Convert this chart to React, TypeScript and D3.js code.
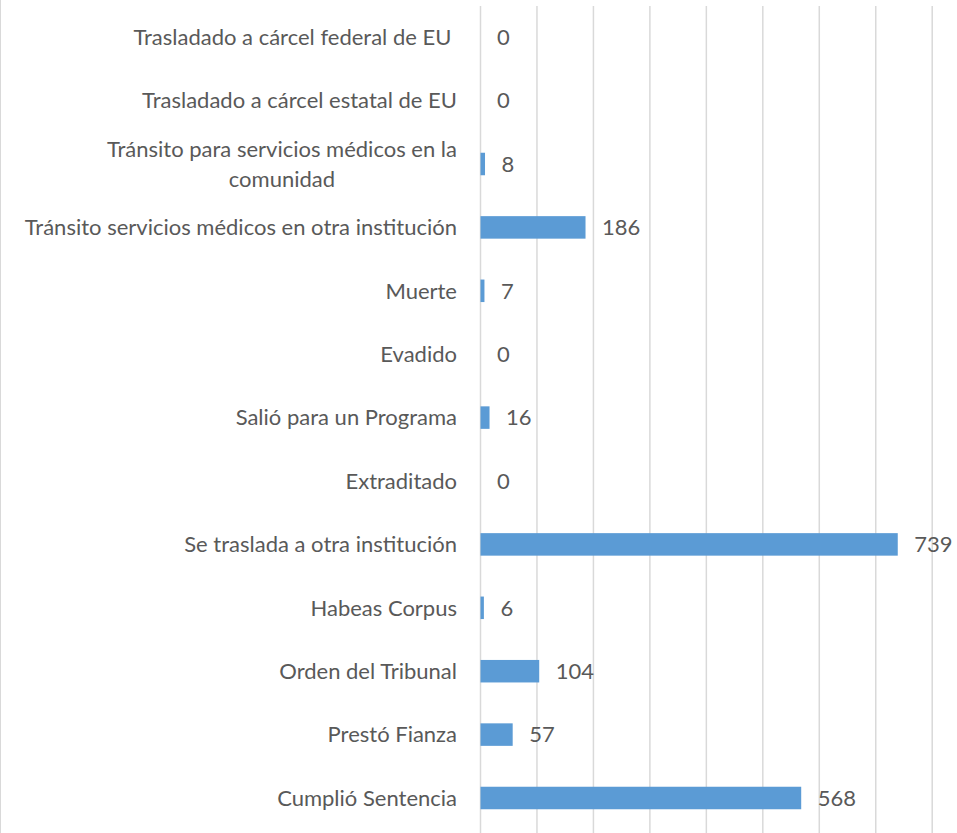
import React, { useRef, useEffect } from 'react';
import * as d3 from 'd3';

// categories top -> bottom, as printed on the chart
const categories = [
  'Trasladado a cárcel federal de EU ',
  'Trasladado a cárcel estatal de EU',
  'Tránsito para servicios médicos en la comunidad',
  'Tránsito servicios médicos en otra institución',
  'Muerte',
  'Evadido',
  'Salió para un Programa',
  'Extraditado',
  'Se traslada a otra institución',
  'Habeas Corpus',
  'Orden del Tribunal',
  'Prestó Fianza',
  'Cumplió Sentencia',
];
const values = [0, 0, 8, 186, 7, 0, 16, 0, 739, 6, 104, 57, 568];
const xTicks = [0, 100, 200, 300, 400, 500, 600, 700, 800];

// labels that Excel wrapped onto two lines
const wrapped: Record<string, string[]> = {
  'Tránsito para servicios médicos en la comunidad': ['Tránsito para servicios médicos en la', 'comunidad'],
};

const W = 957;
const H = 833;
const BAR_COLOR = '#5b9bd5';
const TEXT_COLOR = '#595959';
const GRID_COLOR = '#d9d9d9';
const FONT = 'Lato, "Open Sans", sans-serif';
const FONT_SIZE = '22px';

const App = () => {
  const svgRef = useRef<SVGSVGElement | null>(null);

  useEffect(() => {
    const svg = d3.select(svgRef.current);
    svg.selectAll('*').remove();

    const left = 480.5;
    const right = 932.2;
    const top = 5.5;
    const bottom = 829.7;

    const x = d3.scaleLinear().domain([0, 800]).range([left, right]);
    const y = d3.scaleBand<string>()
      .domain(categories)
      .range([top, bottom])
      .paddingInner(0.645)
      .paddingOuter(0.3225);

    const step = y.step();

    // chart border on the left
    svg.append('line')
      .attr('x1', 0.5).attr('x2', 0.5)
      .attr('y1', 0).attr('y2', H)
      .attr('stroke', GRID_COLOR)
      .attr('stroke-width', 1);

    // vertical gridlines
    svg.append('g')
      .selectAll('line')
      .data(xTicks)
      .join('line')
      .attr('x1', d => x(d))
      .attr('x2', d => x(d))
      .attr('y1', 6)
      .attr('y2', H)
      .attr('stroke', GRID_COLOR)
      .attr('stroke-width', 1.5);

    // bars
    svg.append('g')
      .selectAll('rect')
      .data(values)
      .join('rect')
      .attr('x', x(0))
      .attr('y', (d, i) => y(categories[i])!)
      .attr('width', d => x(d) - x(0))
      .attr('height', y.bandwidth())
      .attr('fill', BAR_COLOR);

    // value labels
    svg.append('g')
      .selectAll('text')
      .data(values)
      .join('text')
      .attr('x', d => x(d) + 16.5)
      .attr('y', (d, i) => y(categories[i])! + y.bandwidth() / 2)
      .attr('dy', '0.35em')
      .attr('fill', TEXT_COLOR)
      .style('font-family', FONT)
      .style('font-size', FONT_SIZE)
      .text(d => d);

    // category labels
    const labelX = 457;
    const cat = svg.append('g')
      .selectAll('text')
      .data(categories)
      .join('text')
      .attr('fill', TEXT_COLOR)
      .style('font-family', FONT)
      .style('font-size', FONT_SIZE)
      .style('white-space', 'pre');

    cat.each(function (d) {
      const t = d3.select(this);
      const cy = y(d)! + y.bandwidth() / 2;
      const lines = wrapped[d];
      if (!lines) {
        t.attr('x', labelX).attr('y', cy).attr('dy', '0.35em')
          .attr('text-anchor', 'end').text(d);
        return;
      }
      // right-align the block, center each line within it
      t.attr('text-anchor', 'middle');
      const tmp = t.append('tspan').text(lines[0]);
      const w = (tmp.node() as SVGTextContentElement).getComputedTextLength();
      tmp.remove();
      const cx = labelX - w / 2;
      const lh = step * 0.47;
      lines.forEach((ln, k) => {
        t.append('tspan')
          .attr('x', cx)
          .attr('y', cy + (k - (lines.length - 1) / 2) * lh)
          .attr('dy', '0.35em')
          .text(ln);
      });
    });
  }, []);

  return (
    <div style={{ position: 'fixed', left: 0, top: 0, width: W, height: H, background: '#fff' }}>
      <svg ref={svgRef} width={W} height={H} style={{ display: 'block' }} />
    </div>
  );
};

export default App;
